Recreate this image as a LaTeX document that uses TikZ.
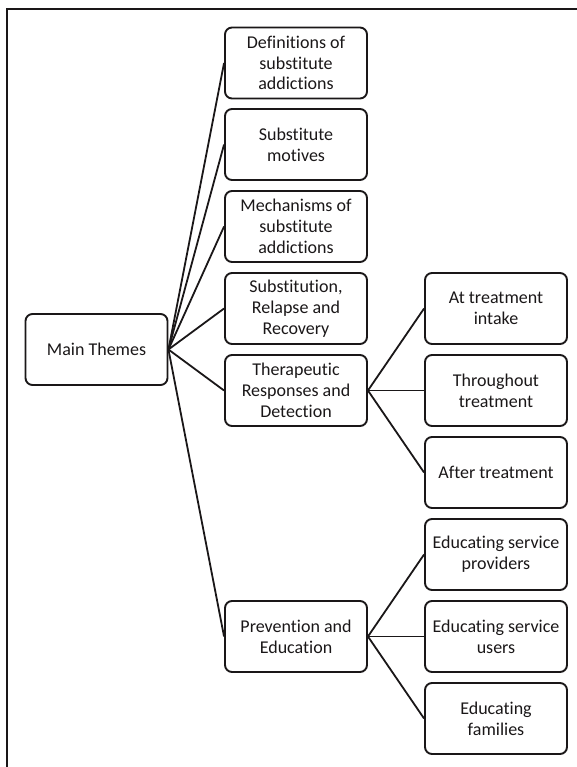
\documentclass[tikz,border=0pt]{standalone}
\usepackage{fontspec}
\setmainfont{Carlito}[Ligatures={NoCommon}]
\definecolor{ink}{HTML}{1A1718}
\begin{document}
\begin{tikzpicture}[x=1pt,y=-1pt,
  box/.style={draw=ink, line width=1.9pt, rounded corners=7pt, minimum width=142pt, minimum height=71pt,
    align=center, inner sep=2pt, text=ink, font=\fontsize{18}{20.7}\selectfont},
  link/.style={draw=ink, line width=1.8pt}]
\useasboundingbox (0,0) rectangle (577,767);
\draw[ink, line width=1.8pt] (577,9) -- (7,9) -- (7,767);
\node[box] (main) at (96.5,349.5) {Main Themes};
\node[box] (def) at (296,63) {Definitions of\\substitute\\addictions};
\node[box] (mot) at (296,144.5) {Substitute\\motives};
\node[box] (mech) at (296,226.5) {Mechanisms of\\substitute\\addictions};
\node[box] (sub) at (296,308.5) {Substitution,\\Relapse and\\Recovery};
\node[box] (ther) at (296,390.5) {Therapeutic\\Responses and\\Detection};
\node[box] (prev) at (296,636.5) {Prevention and\\Education};
\node[box] (at) at (496,308.5) {At treatment\\intake};
\node[box] (thr) at (496,390.5) {Throughout\\treatment};
\node[box] (aft) at (496,472.5) {After treatment};
\node[box] (prov) at (496,554.5) {Educating service\\providers};
\node[box] (users) at (496,636.5) {Educating service\\users};
\node[box] (fam) at (496,718.5) {Educating\\families};
\foreach \t in {def,mot,mech,sub,ther,prev} \draw[link] (main.east) -- (\t.west);
\foreach \t in {at,thr,aft} \draw[link] (ther.east) -- (\t.west);
\foreach \t in {prov,users,fam} \draw[link] (prev.east) -- (\t.west);
\end{tikzpicture}
\end{document}
